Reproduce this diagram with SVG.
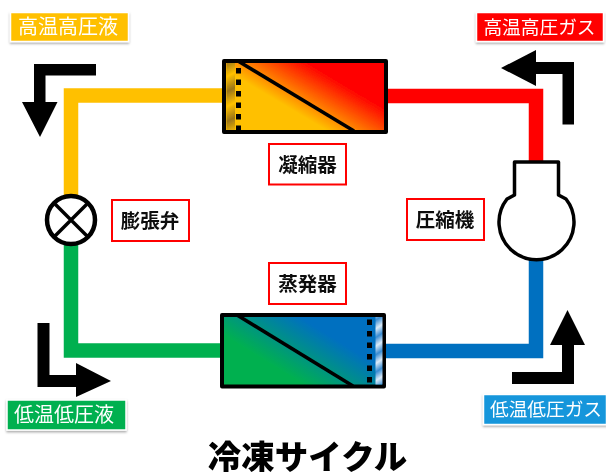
<svg xmlns="http://www.w3.org/2000/svg" width="606" height="472" viewBox="0 0 606 472">
<style>
.pipe{fill:none;stroke-width:14.5;stroke-linejoin:miter}
.arrow{fill:#000}
.tag{stroke:#fff;stroke-width:1.5;filter:url(#sh)}
.tagtext{font-family:"Noto Sans CJK JP","Noto Sans",sans-serif;font-size:20px;fill:#fff;text-anchor:middle;font-weight:400}
.lab{fill:#fff;stroke:#f00;stroke-width:2}
.labtext{font-family:"Noto Sans CJK JP","Noto Sans",sans-serif;font-size:19.5px;font-weight:700;fill:#111;text-anchor:middle}
.shell{stroke:#000;stroke-width:4;stroke-linejoin:round}
.diag{stroke:#000;stroke-width:3.5;fill:none}
.dots{stroke:#000;stroke-width:5;stroke-dasharray:5.5 6;fill:none}
</style>
<defs>
<filter id="sh" x="-10%" y="-20%" width="120%" height="150%"><feDropShadow dx="0" dy="1.5" stdDeviation="1" flood-color="#000" flood-opacity=".35"/></filter>
<filter id="soft" x="0" y="0" width="100%" height="100%"><feGaussianBlur stdDeviation="0.4"/></filter>
<linearGradient id="hot" gradientUnits="userSpaceOnUse" x1="289" y1="108" x2="314" y2="66"><stop offset="0" stop-color="#FFC000"/><stop offset="1" stop-color="#F00"/></linearGradient>
<linearGradient id="cold" gradientUnits="userSpaceOnUse" x1="282" y1="371" x2="311" y2="324"><stop offset="0" stop-color="#00B050"/><stop offset="1" stop-color="#0070C0"/></linearGradient>
<linearGradient id="hotband" gradientUnits="userSpaceOnUse" x1="0" y1="70" x2="6" y2="82" spreadMethod="reflect"><stop offset="0" stop-color="#FFC000"/><stop offset="1" stop-color="#9A7418"/></linearGradient>
<linearGradient id="coldband" gradientUnits="userSpaceOnUse" x1="376" y1="320" x2="380" y2="326" spreadMethod="reflect"><stop offset="0" stop-color="#3A8CD2"/><stop offset="1" stop-color="#DCEBF8"/></linearGradient>
</defs>
<g id="diagram" filter="url(#soft)">
<rect width="606" height="472" fill="#fff"/>
<g id="connectors">
<polyline class="pipe" stroke="#FFC000" points="71,196 71,95.500 222,95.500"/>
<polyline class="pipe" stroke="#F00" points="386,96 536,96 536,162"/>
<polyline class="pipe" stroke="#00B050" points="71,244 71,350.500 222,350.500"/>
<polyline class="pipe" stroke="#0070C0" points="386,351 536,351 536,259"/>
</g>
<g id="flow-arrows">
<path class="arrow" d="M34,64H96V75.500H45.500V102H57.500L40,137L22,102H34Z"/>
<path class="arrow" d="M574,62V124.500H562.500V74H536V86L501,68L536,50V62Z"/>
<path class="arrow" d="M37.500,323H49.500V375H76V363L111,381L76,397V387H37.500Z"/>
<path class="arrow" d="M512,372H562V345H550L567.500,310L585,345H574V384H512Z"/>
</g>
<g id="condenser">
<rect class="shell" x="224" y="61" width="162" height="71" fill="url(#hot)"/>
<rect x="226.500" y="63" width="8.500" height="67" fill="url(#hotband)"/>
<path class="diag" d="M238,61L354,131"/>
<path class="dots" d="M238.500,68V132"/>
<rect class="lab" x="269" y="144" width="77" height="40.500"/>
<text class="labtext" x="307.500" y="171.500">凝縮器</text>
</g>
<g id="evaporator">
<rect class="shell" x="222" y="315" width="162" height="71.500" fill="url(#cold)"/>
<rect x="375.500" y="317" width="7" height="67.500" fill="url(#coldband)"/>
<path class="diag" d="M237,315L353,386"/>
<path class="dots" d="M369.500,319.500V386"/>
<rect class="lab" x="269" y="263" width="77" height="41"/>
<text class="labtext" x="307.500" y="290.500">蒸発器</text>
</g>
<g id="expansion-valve">
<circle cx="71" cy="220" r="24" fill="#fff" stroke="#000" stroke-width="4.500"/>
<path d="M54,203L88,237M88,203L54,237" stroke="#000" stroke-width="3.500" fill="none"/>
<rect class="lab" x="112" y="200" width="77" height="41"/>
<text class="labtext" x="150" y="227.500">膨張弁</text>
</g>
<g id="compressor">
<path d="M514.500,162H558.500V195L566,199A37.500,37.500 0 1 1 507,199L514.500,195Z" fill="#fff" stroke="#000" stroke-width="3.500" stroke-linejoin="round"/>
<rect class="lab" x="407" y="199" width="77" height="41"/>
<text class="labtext" x="445" y="226.500">圧縮機</text>
</g>
<g id="tag-high-liquid">
<rect class="tag" x="10.500" y="12.500" width="118" height="29" fill="#FFC000"/>
<text class="tagtext" x="68" y="34">高温高圧液</text>
</g>
<g id="tag-high-gas">
<rect class="tag" x="476.500" y="12.500" width="127" height="29" fill="#F00"/>
<text class="tagtext" style="font-size:18.7px" x="539.500" y="33.500">高温高圧ガス</text>
</g>
<g id="tag-low-liquid">
<rect class="tag" x="7" y="400" width="119" height="30" fill="#00B050"/>
<text class="tagtext" x="64" y="422">低温低圧液</text>
</g>
<g id="tag-low-gas">
<rect class="tag" x="483.500" y="394.500" width="123" height="30" fill="#1296DB"/>
<text class="tagtext" style="font-size:18.7px" x="546" y="416">低温低圧ガス</text>
</g>
<g id="title">
<text x="307.500" y="469" font-family="'Noto Sans CJK JP','Noto Sans',sans-serif" font-size="33.500" font-weight="900" text-anchor="middle" fill="#000">冷凍サイクル</text>
</g>
</g>
</svg>
